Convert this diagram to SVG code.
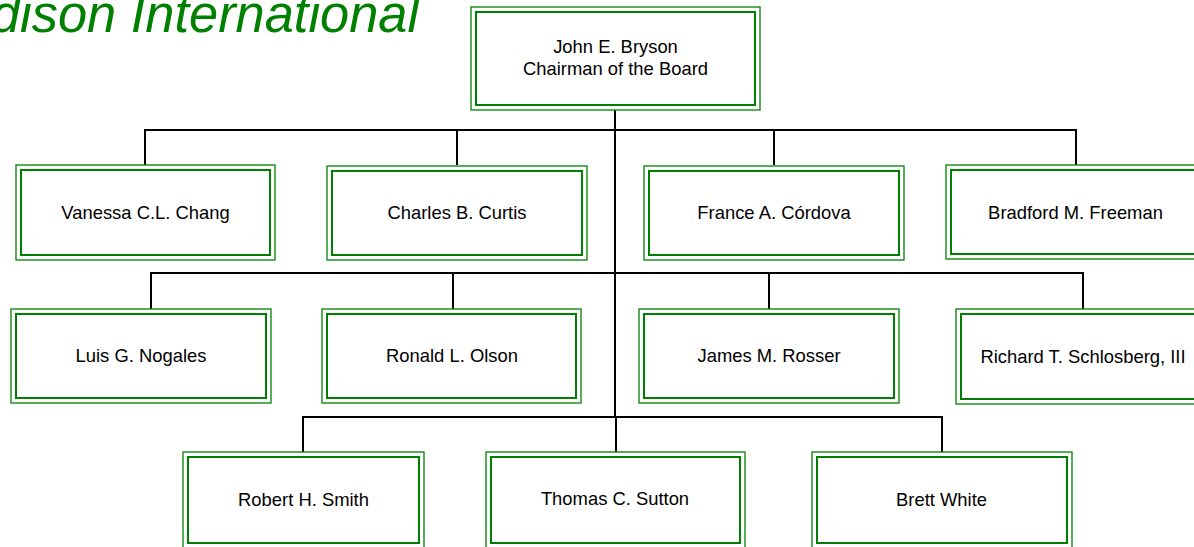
<svg xmlns="http://www.w3.org/2000/svg" width="1194" height="547" viewBox="0 0 1194 547">
<style>
.o{fill:#fff;stroke:#008000;stroke-width:1.3}
.i{fill:none;stroke:#008000;stroke-width:2}
.t{font-family:"Liberation Sans",Arial,sans-serif;font-size:18.4px;fill:#000;text-anchor:middle}
.c{fill:none;stroke:#000;stroke-width:2}
.title{font-family:"Liberation Sans",Arial,sans-serif;font-size:52.4px;font-style:italic;fill:#008000}
</style>
<rect width="1194" height="547" fill="#fff"/>
<text class="title" x="-44" y="32">Edison International</text>
<g id="connectors">
<path class="c" d="M615 110V417" stroke-width="2.6"/>
<path class="c" d="M616 417V452" stroke-width="1.8"/>
<path class="c" d="M145 165V130H1076V165M457 130V165M774 130V165"/>
<path class="c" d="M151 309V273H1083V309M453 273V309M769 273V309"/>
<path class="c" d="M303 452V417H942V452"/>
</g>
<g id="bryson"><rect class="o" x="471" y="7" width="289" height="103"/><rect class="i" x="476" y="12" width="279" height="93"/><text class="t" x="615.5" y="53">John E. Bryson</text><text class="t" x="615.5" y="75">Chairman of the Board</text></g>
<g id="chang"><rect class="o" x="16" y="165" width="259" height="95"/><rect class="i" x="21" y="170" width="249" height="85"/><text class="t" x="145.5" y="219">Vanessa C.L. Chang</text></g>
<g id="curtis"><rect class="o" x="327" y="166" width="260" height="94"/><rect class="i" x="332" y="171" width="250" height="84"/><text class="t" x="457" y="218.5">Charles B. Curtis</text></g>
<g id="cordova"><rect class="o" x="644" y="166" width="260" height="94"/><rect class="i" x="649" y="171" width="250" height="84"/><text class="t" x="774" y="218.5">France A. Córdova</text></g>
<g id="freeman"><rect class="o" x="946" y="165" width="260" height="94"/><rect class="i" x="951" y="170" width="250" height="84"/><text class="t" x="1075.5" y="218.5">Bradford M. Freeman</text></g>
<g id="nogales"><rect class="o" x="11" y="309" width="260" height="94"/><rect class="i" x="16" y="314" width="250" height="84"/><text class="t" x="141" y="362">Luis G. Nogales</text></g>
<g id="olson"><rect class="o" x="322" y="309" width="259" height="94"/><rect class="i" x="327" y="314" width="249" height="84"/><text class="t" x="452" y="362">Ronald L. Olson</text></g>
<g id="rosser"><rect class="o" x="639" y="309" width="260" height="94"/><rect class="i" x="644" y="314" width="250" height="84"/><text class="t" x="769" y="362">James M. Rosser</text></g>
<g id="schlosberg"><rect class="o" x="956" y="309" width="260" height="95"/><rect class="i" x="961" y="314" width="250" height="85"/><text class="t" x="1083" y="362.5">Richard T. Schlosberg, III</text></g>
<g id="smith"><rect class="o" x="183" y="452" width="241" height="96"/><rect class="i" x="188" y="457" width="231" height="86"/><text class="t" x="303.5" y="505.5">Robert H. Smith</text></g>
<g id="sutton"><rect class="o" x="486" y="452" width="259" height="96"/><rect class="i" x="491" y="457" width="249" height="86"/><text class="t" x="615" y="504.5">Thomas C. Sutton</text></g>
<g id="white"><rect class="o" x="812" y="452" width="260" height="96"/><rect class="i" x="817" y="457" width="250" height="86"/><text class="t" x="941.5" y="505.5">Brett White</text></g>
</svg>
